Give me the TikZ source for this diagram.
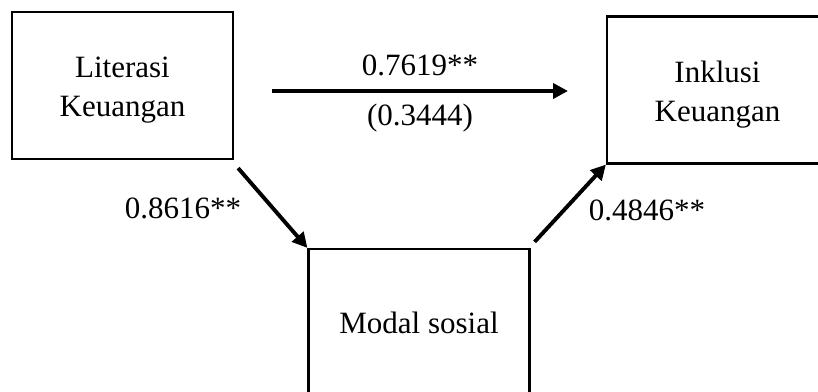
\documentclass[tikz,border=0pt]{standalone}
\usepackage{fontspec}
\setmainfont{Liberation Serif}
\usetikzlibrary{arrows.meta}
\begin{document}
\begin{tikzpicture}[x=1pt,y=-1pt,
  box/.style={draw,line width=2.2pt,minimum width=221pt,minimum height=147pt,inner sep=0pt},
  txt/.style={inner sep=0pt,align=center,font=\fontsize{31}{39}\selectfont},
  lab/.style={anchor=base,inner sep=0pt,font=\fontsize{31}{39}\selectfont},
  arr/.style={line width=3.9pt,-{Triangle[length=15pt,width=15pt]}}]
\useasboundingbox (0,0) rectangle (818,391);
\clip (0,0) rectangle (818,391);
\node[box] (L) at (122.5,85.5) {};
\node[txt] (Lt) at (122.5,90) {Literasi\\Keuangan};
\node[box] (R) at (717.5,90) {};
\node[txt] (Rt) at (717.5,95) {Inklusi\\Keuangan};
\node[box] (M) at (419,322.5) {};
\node[lab] (Mt) at (419,333) {Modal sosial};
\coordinate (h1) at (272,91);
\coordinate (h2) at (568,91);
\draw[arr] (h1) -- (h2);
\node[lab] (t1) at (420,75) {0.7619**};
\node[lab] (t2) at (420,125) {(0.3444)};
\draw[arr] ([shift={(4pt,-8pt)}]L.south east) -- (M.north west);
\draw[arr] ([shift={(4pt,6pt)}]M.north east) -- (R.south west);
\node[lab] (t3) at (183,218) {0.8616**};
\node[lab] (t4) at (647,220) {0.4846**};
\end{tikzpicture}
\end{document}
